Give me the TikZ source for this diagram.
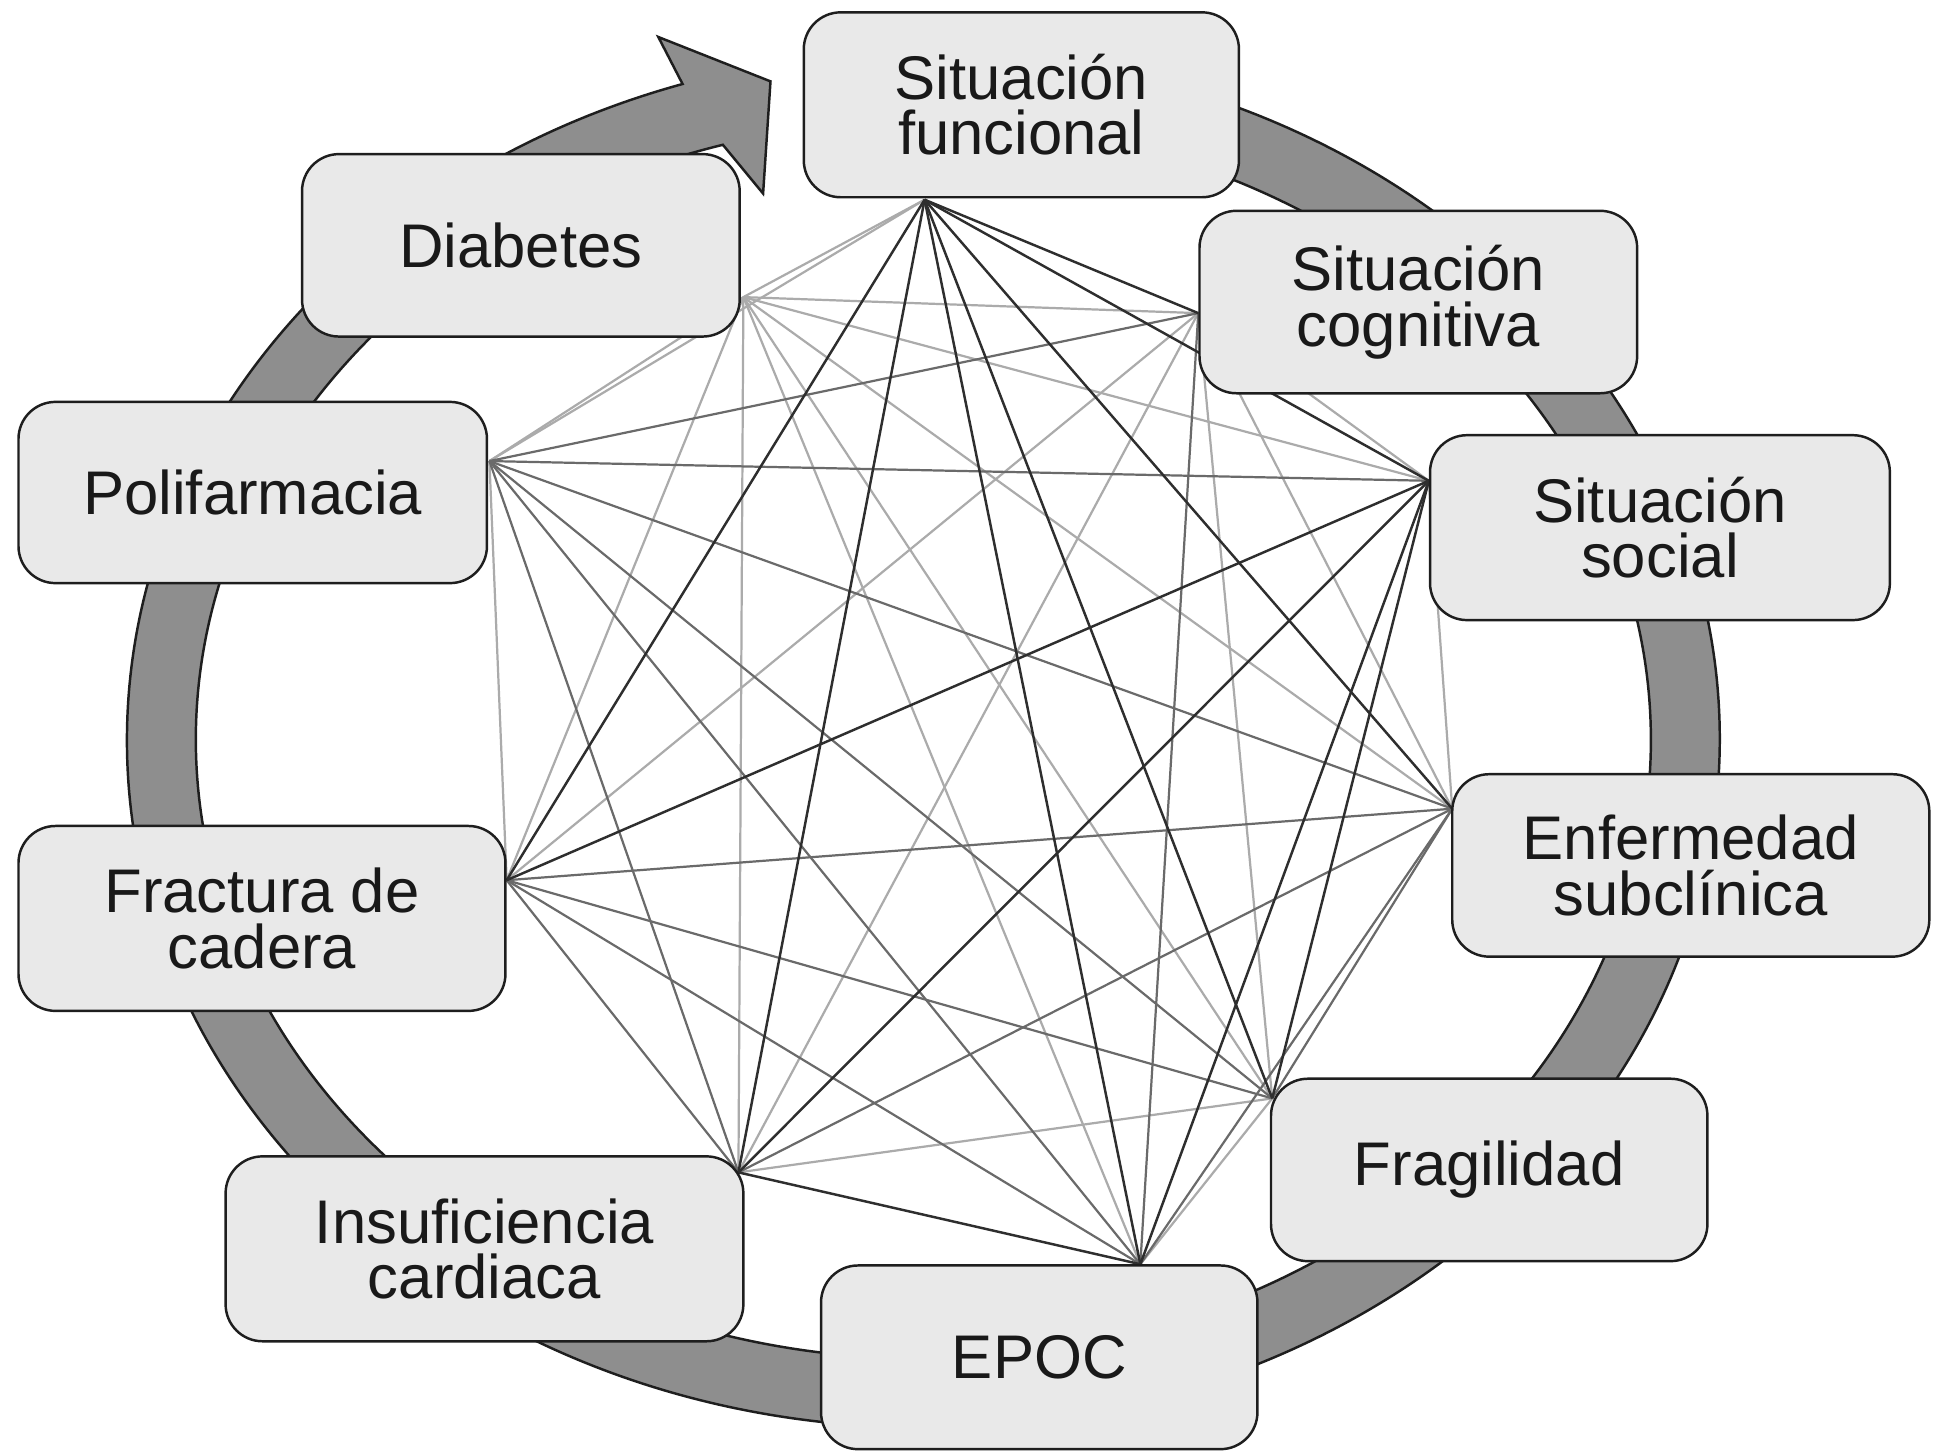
\documentclass[tikz,border=0pt]{standalone}
\usepackage{fontspec}
\setmainfont{Liberation Sans}
\usetikzlibrary{backgrounds,calc}
\definecolor{boxfill}{HTML}{E9E9E9}
\definecolor{boxline}{HTML}{1E1E1E}
\definecolor{ringfill}{HTML}{8E8E8E}
\definecolor{linkdk}{HTML}{2E2E2E}
\definecolor{linkmd}{HTML}{6A6A6A}
\definecolor{linklt}{HTML}{ABABAB}
\newcommand{\boxfont}{\fontsize{25}{22.5}\selectfont}

\begin{document}
\begin{tikzpicture}[x=0.5pt,y=0.5pt,yscale=-1,xscale=1,
  box/.style={draw=boxline, fill=boxfill, line width=1pt, rounded corners=15pt, align=center, inner sep=0pt, font=\boxfont, text=black!90},
  ring/.style={draw=boxline, fill=ringfill, line width=1pt, line join=miter},
  linkdark/.style={draw=linkdk, line width=1pt},
  linkmid/.style={draw=linkmd, line width=0.9pt},
  linklight/.style={draw=linklt, line width=0.9pt}]
\useasboundingbox (0,0) rectangle (1568,1179);

% Rounded Rect
\node [box, minimum width=176.5pt, minimum height=75pt] (sitfun) at (828.5,85) {Situación\\funcional};
% Rounded Rect
\node [box, minimum width=177.5pt, minimum height=74pt] (diab) at (422.5,199) {Diabetes};
% Rounded Rect
\node [box, minimum width=177.5pt, minimum height=74pt] (sitcog) at (1150.5,245) {Situación\\cognitiva};
% Rounded Rect
\node [box, minimum width=190pt, minimum height=73.5pt] (polif) at (205,399.5) {Polifarmacia};
% Rounded Rect
\node [box, minimum width=186.5pt, minimum height=75pt] (sitsoc) at (1346.5,428) {Situación\\social};
% Rounded Rect
\node [box, minimum width=193.5pt, minimum height=74pt] (enfsub) at (1371.5,702) {Enfermedad\\subclínica};
% Rounded Rect
\node [box, minimum width=197.5pt, minimum height=75pt] (fraccad) at (212.5,745) {Fractura de\\cadera};
% Rounded Rect
\node [box, minimum width=177pt, minimum height=74pt] (fragil) at (1208,949) {Fragilidad};
% Rounded Rect
\node [box, minimum width=210pt, minimum height=75pt] (inscard) at (393,1013) {Insuficiencia\\cardiaca};
% Rounded Rect
\node [box, minimum width=177pt, minimum height=74.5pt] (epoc) at (843,1101) {EPOC};

% where the links meet the boxes
\coordinate (sitfun-p) at ($(sitfun.south)+(-78.5,1)$);
\coordinate (diab-p) at ($(diab.east)+(2,42)$);
\coordinate (sitcog-p) at ($(sitcog.west)+(0,9)$);
\coordinate (polif-p) at ($(polif.east)+(1,-25.5)$);
\coordinate (sitsoc-p) at ($(sitsoc.west)+(0,-38)$);
\coordinate (enfsub-p) at ($(enfsub.west)+(1,-46)$);
\coordinate (fraccad-p) at ($(fraccad.east)+(0,-31)$);
\coordinate (fragil-p) at ($(fragil.west)+(2,-58)$);
\coordinate (inscard-p) at ($(inscard.north east)+(-5,14)$);
\coordinate (epoc-p) at ($(epoc.north)+(82,0)$);
\coordinate (ringc) at (749,600);

\begin{scope}[on background layer]
% Shape: Ring Arrow
\draw [ring] ($(ringc)+(-85:646 and 558)$) arc [start angle=-85, end angle=252.4, x radius=646, y radius=558]
  -- (534,30) -- (625,66) -- (619,157) -- ($(ringc)+(254:590 and 502)$)
  arc [start angle=254, end angle=-85, x radius=590, y radius=502] -- cycle;

% Straight Lines
\foreach \a/\b in {sitfun/diab, sitfun/polif, diab/sitcog, diab/polif, diab/sitsoc, diab/enfsub, diab/fraccad,
  diab/fragil, diab/inscard, diab/epoc, sitcog/sitsoc, sitcog/enfsub, sitcog/fraccad, sitcog/fragil,
  sitcog/inscard, polif/fraccad, sitsoc/enfsub, fragil/inscard, fragil/epoc}
  \draw [linklight] (\a-p) -- (\b-p);
\foreach \a/\b in {sitcog/polif, sitcog/epoc, polif/sitsoc, polif/enfsub, polif/fragil, polif/inscard,
  polif/epoc, enfsub/fraccad, enfsub/fragil, enfsub/inscard, enfsub/epoc, fraccad/fragil, fraccad/inscard,
  fraccad/epoc}
  \draw [linkmid] (\a-p) -- (\b-p);
\foreach \a/\b in {sitfun/sitcog, sitfun/sitsoc, sitfun/enfsub, sitfun/fraccad, sitfun/fragil, sitfun/inscard,
  sitfun/epoc, sitsoc/fraccad, sitsoc/fragil, sitsoc/inscard, sitsoc/epoc, inscard/epoc}
  \draw [linkdark] (\a-p) -- (\b-p);
\end{scope}

\end{tikzpicture}
\end{document}
